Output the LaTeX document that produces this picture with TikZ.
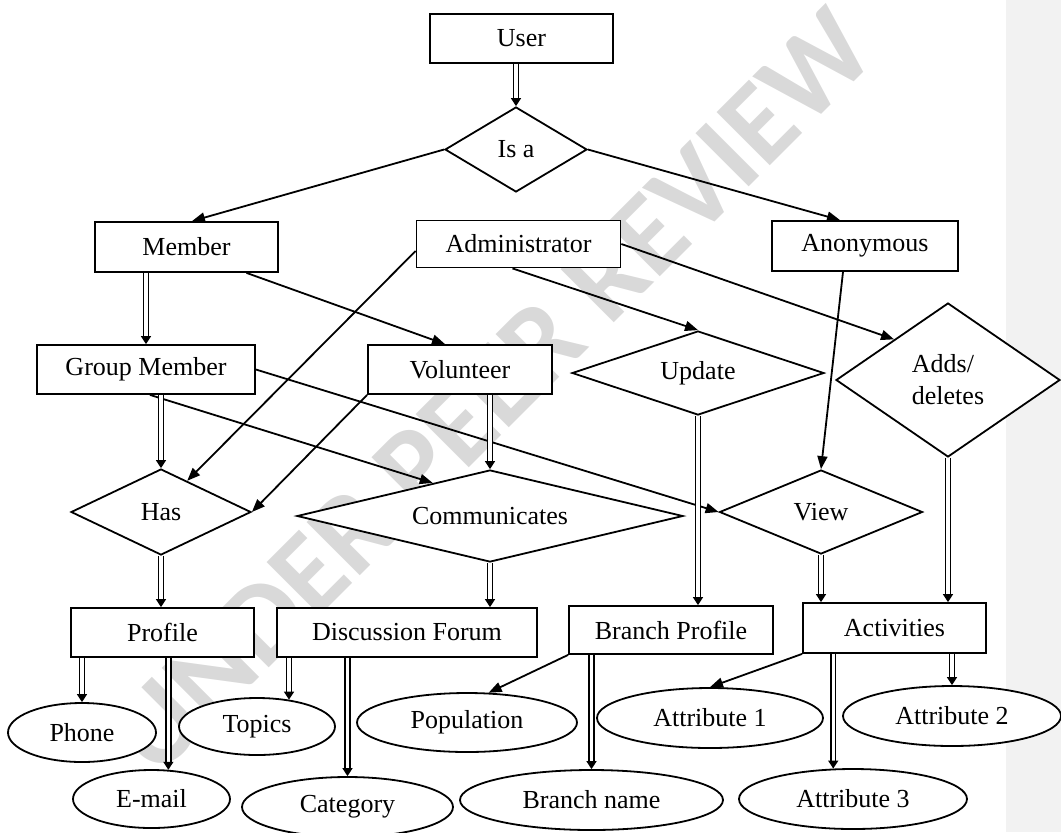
\documentclass[tikz,border=0pt]{standalone}
\usepackage{fontspec}
\setmainfont{Liberation Serif}
\newfontfamily\wmfont{Carlito}
\usetikzlibrary{shapes.geometric,arrows.meta}
\definecolor{wmgray}{RGB}{217,217,217}
\definecolor{panelgray}{RGB}{242,242,242}

\begin{document}
\begin{tikzpicture}[x=0.5pt,y=-0.5pt,line width=0.9pt,font=\fontsize{13}{16}\selectfont]

    \useasboundingbox (0,0) rectangle (1061,832);
    \fill[panelgray] (1006,0) rectangle (1061,832);
    \node[wmgray,rotate=45,font=\wmfont\bfseries\fontsize{58}{58}\selectfont] (wm) at (492,392) {UNDER PEER REVIEW};

    \begin{scope}[every node/.style={rectangle,draw,fill=white,inner sep=0pt}]
        \node[minimum width=91.5pt,minimum height=24.5pt] (1) at (521.5,38.5) {User};
        \node[minimum width=91.5pt,minimum height=25pt] (3) at (186.5,247) {Member};
        \node[minimum width=102pt,minimum height=23.5pt] (4) at (518.5,244) {Administrator};
        \node[minimum width=93pt,minimum height=25pt] (5) at (865,246) {Anonymous};
        \node[minimum width=109pt,minimum height=24.5pt] (6) at (146,369.5) {Group Member};
        \node[minimum width=92pt,minimum height=24.5pt] (7) at (460,369.5) {Volunteer};
        \node[minimum width=91.5pt,minimum height=24.5pt] (13) at (162.5,632.5) {Profile};
        \node[minimum width=130pt,minimum height=24.5pt] (14) at (407,632.5) {Discussion Forum};
        \node[minimum width=102pt,minimum height=24pt] (15) at (671,630) {Branch Profile};
        \node[minimum width=91.5pt,minimum height=25pt] (16) at (894.5,628) {Activities};
    \end{scope}

    \begin{scope}[every node/.style={diamond,draw,fill=white,inner sep=0pt}]
        \node[minimum width=71pt,minimum height=42.5pt,aspect=1.7] (2) at (516,149.5) {Is a};
        \node[minimum width=126pt,minimum height=42pt,aspect=3] (8) at (698,373) {Update};
        \node[minimum width=112pt,minimum height=77pt,aspect=1.45,align=left] (9) at (948,380) {Adds/\\deletes};
        \node[minimum width=90pt,minimum height=43pt,aspect=2.1] (10) at (161,512) {Has};
        \node[minimum width=193pt,minimum height=46pt,aspect=4.2] (11) at (490,516) {Communicates};
        \node[minimum width=101.5pt,minimum height=42pt,aspect=2.4] (12) at (821,512) {View};
    \end{scope}

    \begin{scope}[every node/.style={ellipse,draw,fill=white,inner sep=0pt}]
        \node[minimum width=74pt,minimum height=29.5pt] (17) at (82,732.5) {Phone};
        \node[minimum width=78.5pt,minimum height=29pt] (18) at (151.5,799) {E-mail};
        \node[minimum width=78pt,minimum height=28.5pt] (19) at (257,726.5) {Topics};
        \node[minimum width=105.5pt,minimum height=30pt] (20) at (347.5,807) {Category};
        \node[minimum width=110pt,minimum height=29.5pt] (21) at (467,722.5) {Population};
        \node[minimum width=131.5pt,minimum height=30pt] (22) at (591.5,800) {Branch name};
        \node[minimum width=113pt,minimum height=30pt] (23) at (710,718) {Attribute 1};
        \node[minimum width=109pt,minimum height=30pt] (24) at (952,716) {Attribute 2};
        \node[minimum width=114pt,minimum height=30pt] (25) at (853,799) {Attribute 3};
    \end{scope}

    \begin{scope}[>={Triangle[length=6.5pt,width=5pt]}, every edge/.style={draw,line width=0.9pt}]
        \path [->] (2.west) edge ([xshift=2.75pt]3.north);
        \path [->] (2.east) edge ([xshift=-12.5pt]5.north);
        \path [->] ([xshift=30pt]3.south) edge ([xshift=-7.5pt]7.north);
        \path [->] ([yshift=-3.5pt]4.west) edge (10.50);
        \path [->] ([xshift=-3pt]4.south) edge (8.north);
        \path [->] (4.east) edge (9.143);
        \path [->] ([xshift=-11pt]5.south) edge (12.north);
        \path [->] (6.east) edge (12.west);
        \path [->] ([xshift=2pt]6.south) edge (11.150);
        \path [->] (7.south west) edge (10.east);
        \path [->] (15.south west) edge (21.54);
        \path [->] (16.south west) edge (23.north);
    \end{scope}

    \begin{scope}[>={Triangle[length=4pt,width=5pt]}, every edge/.style={draw,double,double distance=1.6pt,line width=0.8pt}]
        \path [->] (1.south -| 2.north) edge (2.north);
        \path [->] (3.south -| 6.north) edge (6.north);
        \path [->] (6.south -| 10.north) edge (10.north);
        \path [->] (7.south -| 11.north) edge (11.north);
        \path [->] (8.south) edge (8.south |- 15.north);
        \path [->] (9.south) edge (9.south |- 16.north);
        \path [->] (12.south) edge (12.south |- 16.north);
        \path [->] (10.south) edge (10.south |- 13.north);
        \path [->] (11.south) edge (11.south |- 14.north);
        \path [->] (13.south -| 17.north) edge (17.north);
        \path [->] (13.south -| 18.60) edge (18.60);
        \path [->] (14.south -| 19.40) edge (19.40);
        \path [->] (14.south -| 20.north) edge (20.north);
        \path [->] (15.south -| 22.north) edge (22.north);
        \path [->] (16.south -| 25.123) edge (25.123);
        \path [->] (16.south -| 24.north) edge (24.north);
    \end{scope}

\end{tikzpicture}
\end{document}
